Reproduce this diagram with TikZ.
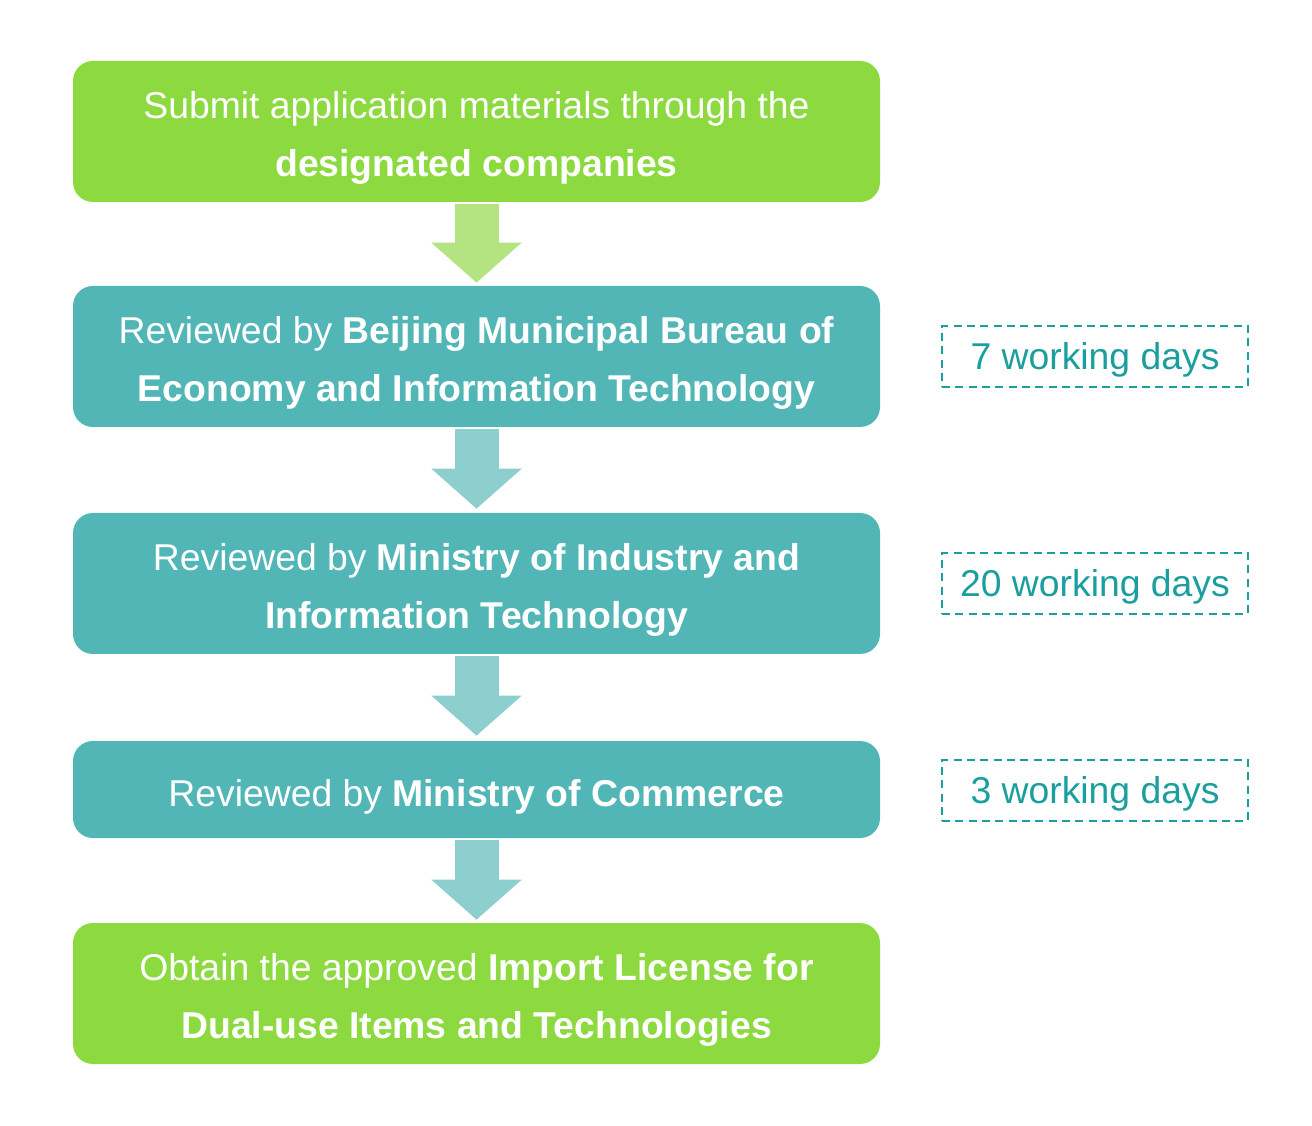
\documentclass[tikz,border=0pt]{standalone}
\usepackage{fontspec}
\setmainfont{Liberation Sans}
\definecolor{flgreen}{RGB}{141,218,64}
\definecolor{flteal}{RGB}{82,182,182}
\definecolor{flgreenlt}{RGB}{180,228,130}
\definecolor{fltealt}{RGB}{141,206,206}
\definecolor{fldays}{RGB}{26,158,158}
\usetikzlibrary{arrows.meta,positioning}

\begin{document}
\begin{tikzpicture}[x=0.75pt,y=0.75pt,
  box/.style={rounded corners=15pt,minimum width=605.25pt,minimum height=105.75pt,inner sep=0pt,text=white,align=center,font=\fontsize{28}{43.5}\selectfont,execute at begin node={\rule{0pt}{#1}}},
  box/.default=73pt,
  days/.style={draw=fldays,line width=1.5pt,dash pattern=on 6pt off 4pt,minimum width=229.5pt,minimum height=45.75pt,inner sep=0pt,text=fldays,font=\fontsize{28}{34}\selectfont,execute at begin node={\rule{0pt}{25pt}}},
  arr/.style={line width=33pt,-{Triangle[length=30pt,width=66pt]}}]
  \useasboundingbox (0,0) rectangle (1312,1125);
  % process steps
  \node[box,fill=flgreen] (s1) at (476.5,993.5) {Submit application materials through the\\\textbf{designated companies}};
  \node[box,fill=flteal] (s2) at (476.5,768.5) {Reviewed by \textbf{Beijing Municipal Bureau of}\\\textbf{Economy and Information Technology}};
  \node[box,fill=flteal] (s3) at (476.5,541.5) {Reviewed by \textbf{Ministry of Industry and}\\\textbf{Information Technology}};
  \node[box=32pt,fill=flteal,minimum height=72.75pt] (s4) at (476.5,335.5) {Reviewed by \textbf{Ministry of Commerce}};
  \node[box,fill=flgreen] (s5) at (476.5,131.5) {Obtain the approved \textbf{Import License for}\\\textbf{Dual-use Items and Technologies}};
  % durations
  \node[days] (d2) at (1095,768.5) {7 working days};
  \node[days] (d3) at (1095,541.5) {20 working days};
  \node[days] (d4) at (1095,334.5) {3 working days};
  % arrows
  \draw[arr,flgreenlt] ([yshift=-1.5pt]s1.south) -- ([yshift=2.25pt]s2.north);
  \draw[arr,fltealt] ([yshift=-1.5pt]s2.south) -- ([yshift=3pt]s3.north);
  \draw[arr,fltealt] ([yshift=-1.5pt]s3.south) -- ([yshift=3.75pt]s4.north);
  \draw[arr,fltealt] ([yshift=-1.5pt]s4.south) -- ([yshift=2.25pt]s5.north);
\end{tikzpicture}
\end{document}
